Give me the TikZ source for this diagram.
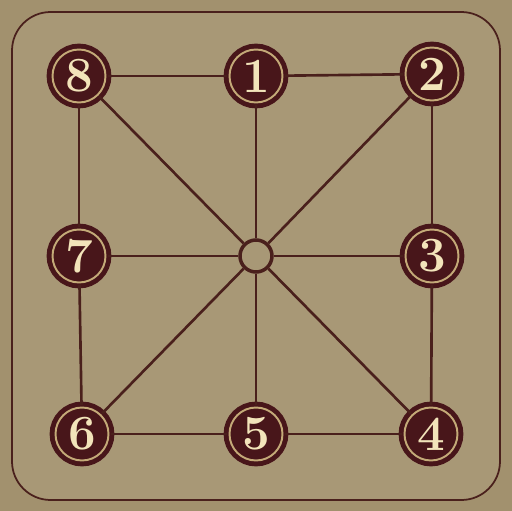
\documentclass[tikz,border=0pt]{standalone}
\usepackage{tikz}
\usetikzlibrary{positioning}
\definecolor{board}{RGB}{162,145,110}
\definecolor{boardin}{RGB}{168,152,118}
\definecolor{wood}{RGB}{74,32,28}
\definecolor{maroon}{RGB}{72,22,26}
\definecolor{cream}{RGB}{242,228,186}
\definecolor{goldring}{RGB}{196,170,120}

\begin{document}
\begin{tikzpicture}[x=0.02cm,y=-0.02cm,line width=1.5pt,
    spot/.style={circle,draw=maroon,line width=2.8pt,fill=maroon,minimum size=1.06cm,inner sep=0pt,
      double=goldring,double distance=1.1pt,text=cream,font=\fontsize{28}{28}\selectfont\bfseries},
    hub/.style={circle,draw=wood,line width=2pt,fill=boardin,minimum size=0.64cm,inner sep=0pt}]

  \fill[board] (0,0) rectangle (512,511);
  \useasboundingbox (0,0) rectangle (512,511);
  \draw[wood,line width=1pt,fill=boardin,rounded corners=22pt] (12,12) rectangle (500,500);

  \node[hub] (c) at (256,256) {};
  \node[spot] (n8) at (79,76) {8};
  \node[spot] (n1) at (256,76) {1};
  \node[spot] (n2) at (432,74) {2};
  \node[spot] (n7) at (79,256) {7};
  \node[spot] (n3) at (432,256) {3};
  \node[spot] (n6) at (82,434) {6};
  \node[spot] (n5) at (256,434) {5};
  \node[spot] (n4) at (431,434) {4};

  \path[draw=wood]
        (n8) edge (n1) (n1) edge (n2)
        (n2) edge (n3) (n3) edge (n4)
        (n4) edge (n5) (n5) edge (n6)
        (n6) edge (n7) (n7) edge (n8)
        (c) edge (n1) edge (n2) edge (n3) edge (n4)
            edge (n5) edge (n6) edge (n7) edge (n8);

\end{tikzpicture}
\end{document}
